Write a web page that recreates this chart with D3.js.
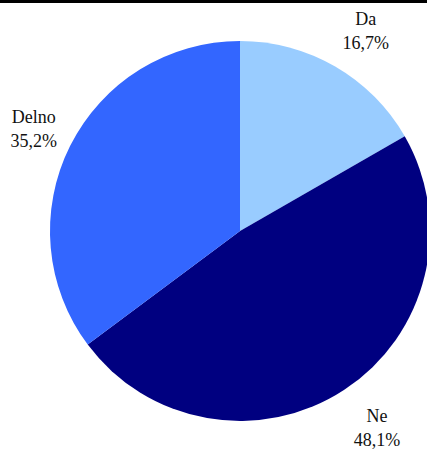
<!DOCTYPE html>
<html>
<head>
<meta charset="utf-8">
<script src="https://cdn.jsdelivr.net/npm/d3@7"></script>
<style>
  html, body { margin: 0; padding: 0; background: #fff; }
  svg { display: block; }
  .lbl { font-family: "Liberation Serif", "Times New Roman", Times, serif; font-size: 18px; }
</style>
</head>
<body>
<svg width="427" height="450"></svg>
<script>
(function () {

	var categories = ["Da", "Ne", "Delno"];
	var values = [16.7, 48.1, 35.2];
	var labels = ["16,7%", "48,1%", "35,2%"];
	var colors = ["#99CCFF", "#000080", "#3366FF"];

	var svg = d3.select("svg");

	// top rule
	svg.append("rect")
		.attr("x", 0).attr("y", 0)
		.attr("width", 427).attr("height", 3)
		.attr("fill", "#000");

	var cx = 240, cy = 231, radius = 190;

	var pie = d3.pie().sort(null).value(function (d) { return d; });
	var arcs = pie(values);

	var arc = d3.arc().innerRadius(0).outerRadius(radius);
	var labelArc = d3.arc().innerRadius(233).outerRadius(233);

	var g = svg.append("g").attr("transform", "translate(" + cx + "," + cy + ")");

	g.selectAll("path")
		.data(arcs)
		.enter()
		.append("path")
		.attr("d", arc)
		.attr("fill", function (d, i) { return colors[i]; });

	var text = g.selectAll("text")
		.data(arcs)
		.enter()
		.append("text")
		.attr("class", "lbl")
		.attr("text-anchor", "middle")
		.attr("fill", "#111")
		.attr("transform", function (d) {
			var c = labelArc.centroid(d);
			var shift = c[0] > 0 ? 9 : 2;
			return "translate(" + (c[0] + shift) + "," + c[1] + ")";
		});

	text.append("tspan")
		.attr("x", 0).attr("y", -4)
		.text(function (d, i) { return categories[i]; });

	text.append("tspan")
		.attr("x", 0).attr("y", 20)
		.text(function (d, i) { return labels[i]; });

})();
</script>
</body>
</html>
